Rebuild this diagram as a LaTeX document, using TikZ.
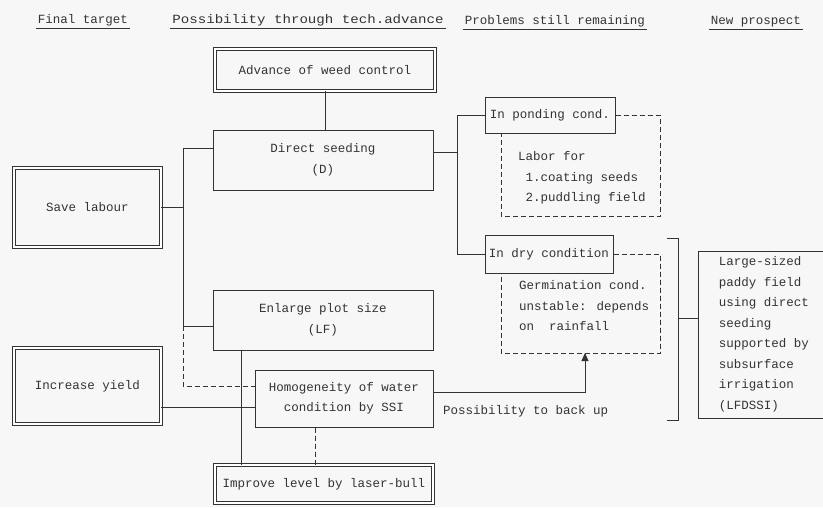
\documentclass[tikz,border=0pt]{standalone}
\usepackage{fontspec}
\setmainfont{Liberation Mono}
\usetikzlibrary{arrows.meta,calc}

\begin{document}
\begin{tikzpicture}[x=1pt,y=-1pt,color=black!80,
    every node/.style={font=\fontsize{12.5}{20.5}\selectfont},
    box/.style={draw,line width=1pt,inner sep=0pt,align=center},
    dbox/.style={box,double,double distance=2.2pt,line width=0.9pt},
    head/.style={font=\fontsize{12.5}{14}\selectfont,inner sep=2pt},
    link/.style={line width=1pt},
    dashline/.style={line width=1pt,dash pattern=on 5pt off 3pt},
  ]
  \useasboundingbox (0,0) rectangle (823,507);
  \fill[black!3] (0,0) rectangle (823,507);

  % column heads
  \node[head] (hfin) at (83,20) {Final target};
  \node[head] (hpos) at (308,20) {\scalebox{1.13}[1]{Possibility through tech.advance}};
  \node[head] (hprb) at (555,21) {Problems still remaining};
  \node[head] (hnew) at (756,22) {New prospect};
  \foreach \h in {hfin,hpos,hprb,hnew}
    \draw[link] (\h.south west) -- (\h.south east);

  % boxes
  \node[dbox,minimum width=220pt,minimum height=42pt] (adv) at (325,70) {Advance of weed control};
  \node[box,minimum width=220pt,minimum height=60pt] (ds) at (323,160) {Direct seeding\\(D)};
  \node[dbox,minimum width=147pt,minimum height=79pt] (save) at (87.5,207.5) {Save labour};
  \node[box,minimum width=130pt,minimum height=36pt] (pond) at (550,115) {In ponding cond.};
  \node[box,minimum width=128pt,minimum height=38pt] (dry) at (549,254) {In dry condition};
  \node[box,minimum width=220pt,minimum height=60pt] (enl) at (323,320) {Enlarge plot size\\(LF)};
  \node[box,minimum width=178pt,minimum height=57pt] (homo) at (344,398.5) {Homogeneity of water\\condition by SSI};
  \node[dbox,minimum width=147pt,minimum height=76pt] (incr) at (87.5,386) {Increase yield};
  \node[dbox,minimum width=218pt,minimum height=38pt] (impr) at (324,484) {Improve level by laser-bull};
  \node[box,align=left,minimum width=132pt,minimum height=167pt] (lfd) at (764,334.5)
    {Large-sized\\paddy field\\using direct\\seeding\\supported by\\subsurface\\irrigation\\(LFDSSI)};

  % texts without frame
  \node[anchor=west,align=left,inner sep=0pt] (labor) at (518,178)
    {Labor for\\\phantom{x}1.coating seeds\\\phantom{x}2.puddling field};
  \node[anchor=west,align=left,inner sep=0pt] (germ) at (519,306)
    {Germination cond.\\unstable: depends\\on\ \ rainfall};
  \node[anchor=west,inner sep=0pt] (back) at (443,411) {Possibility to back up};

  % left bus
  \coordinate (lb1) at (183,148);
  \coordinate (lb3) at (183,326);
  \coordinate (lb4) at (183,386);
  \coordinate (iy) at (0,407);
  \draw[link] (adv.south) -- (adv.south |- ds.north);
  \draw[link] (lb1 -| ds.west) -- (lb1) -- (lb3) -- (lb3 -| enl.west);
  \draw[link] (save.east) -- (save.east -| lb1);
  \draw[dashline] (lb3) -- (lb4) -- (lb4 -| homo.west);
  \draw[link] (iy -| incr.east) -- (iy -| homo.west);

  % right bus
  \coordinate (dsR) at ($(ds.north east)!0.38!(ds.south east)$);
  \coordinate (rb) at (457,0);
  \draw[link] (dsR) -- (dsR -| rb);
  \draw[link] (pond.west) -- (pond.west -| rb) -- (dry.west -| rb) -- (dry.west);

  % dashed frames
  \coordinate (labC) at (660,216);
  \coordinate (labL) at (501,216);
  \draw[dashline] (pond.east) -| (labC) -- (labL) -- (labL |- pond.south);
  \coordinate (gerC) at (660,353);
  \coordinate (gerL) at (501,353);
  \draw[dashline] (dry.east) -| (gerC) -- (gerL) -- (gerL |- dry.south);

  % back up
  \coordinate (bk) at (585,392);
  \draw[link,-{Triangle[length=8pt,width=7pt]}] (homo.east |- bk) -- (bk) -- (bk |- gerC);

  % down to laser levelling
  \coordinate (ev) at (241,0);
  \coordinate (hv) at (315,0);
  \draw[link] (ev |- enl.south) -- (ev |- impr.north);
  \draw[dashline] (hv |- homo.south) -- (hv |- impr.north);

  % bracket to prospect
  \coordinate (brT) at (678,238);
  \coordinate (brB) at (678,420);
  \coordinate (brM) at (678,318);
  \draw[link] ($(brT)+(-11,0)$) -- (brT) -- (brB) -- ($(brB)+(-11,0)$);
  \draw[link] (brM) -- (brM -| lfd.west);
\end{tikzpicture}
\end{document}
